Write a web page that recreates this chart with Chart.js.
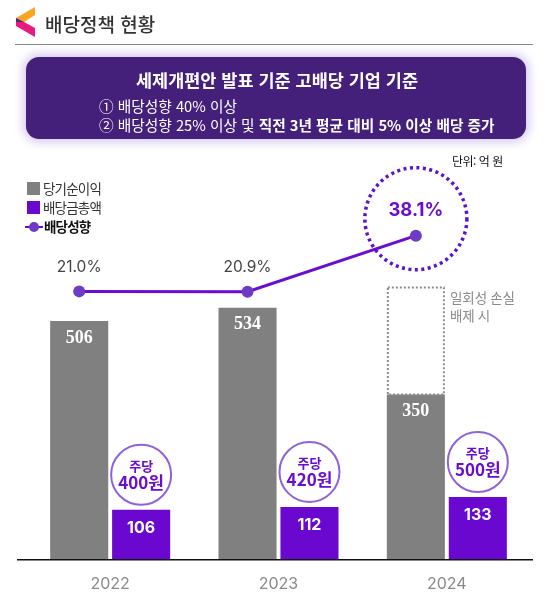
<!DOCTYPE html>
<html lang="ko">
<head>
<meta charset="utf-8">
<script src="https://cdn.jsdelivr.net/npm/chart.js"></script>
<style>
  body { margin: 0; background: #fff; font-family: "Noto Sans CJK KR", "Noto Sans", sans-serif; overflow: hidden; }
  #wrap { position: relative; width: 555px; height: 599px; overflow: hidden; }
  #wrap canvas { position: absolute; left: 0; top: 0; }
  .logo { position: absolute; left: 16px; top: 7px; }
  .title { position: absolute; left: 45px; top: 10px; font-size: 19px; line-height: 28px; color: #333; font-weight: 500; }
  .rule { position: absolute; left: 15px; top: 44px; width: 518px; height: 1px; background: #8a8a8a; }
  .box { position: absolute; left: 26px; top: 57px; width: 500px; height: 82px; border-radius: 13px;
         background: #44207a; box-shadow: 0 0 10px 3px rgba(160, 130, 225, 0.45); color: #fff; }
  .box h2 { margin: 0; position: absolute; left: 0; right: 0; top: 11px; text-align: center;
            font-size: 17.5px; line-height: 24px; font-weight: bold; padding-left: 2px; }
  .box p { margin: 0; position: absolute; left: 73px; font-size: 14.7px; line-height: 20px; white-space: nowrap; }
  .box p b { font-weight: bold; }
  .unit { position: absolute; left: 452px; top: 152px; font-size: 12px; line-height: 18px; color: #111; letter-spacing: -0.5px; }
  .legend { position: absolute; left: 25px; top: 179px; font-size: 13.5px; color: #333; letter-spacing: -0.8px; }
  .li { height: 19px; line-height: 19px; display: flex; align-items: center; }
  .sw { display: inline-block; width: 13px; height: 13px; margin: 0 3px 0 2px; }
  .ln { display: inline-block; position: relative; width: 18px; height: 12px; margin-right: 1px; }
  .ln::before { content: ""; position: absolute; left: 0; right: 0; top: 5px; height: 2px; background: #6a0dd1; }
  .ln::after { content: ""; position: absolute; left: 4px; top: 1px; width: 10px; height: 10px; border-radius: 50%; background: #6f3bc4; }
  .li.b { font-weight: bold; color: #111; }
</style>
</head>
<body>
<div id="wrap">
  <canvas id="chart" width="555" height="609"></canvas>

  <svg class="logo" width="19" height="30" viewBox="0 0 19 30">
    <polygon points="19,0 19,8 8,15 0,15 0,11" fill="#f6a623"/>
    <polygon points="0,11 8,15 0,19" fill="#4a2a86"/>
    <polygon points="0,15 8,15 19,21 19,30 0,19" fill="#e8197f"/>
  </svg>
  <div class="title">배당정책 현황</div>
  <div class="rule"></div>

  <div class="box">
    <h2>세제개편안 발표 기준 고배당 기업 기준</h2>
    <p style="top:39px">① 배당성향 40% 이상</p>
    <p style="top:58px">② 배당성향 25% 이상 및 <b>직전 3년 평균 대비 5% 이상 배당 증가</b></p>
  </div>

  <div class="unit">단위: 억 원</div>
  <div class="legend" id="legend"></div>
</div>

<script>
// 연도
var years = ['2022', '2023', '2024'];
var yearNums = [2022, 2023, 2024];

// 당기순이익 (억 원)
var netIncome = [506, 534, 350];
// 일회성 손실 배제 시 당기순이익 (2024만)
var netIncomeAdj = [null, null, 577];
// 배당금총액 (억 원)
var dividendTotal = [106, 112, 133];
// 배당성향 (%)
var payoutRatio = [21.0, 20.9, 38.1];
// 주당 배당금 (원)
var dps = [400, 420, 500];

var seriesNames = ['당기순이익', '배당금총액', '배당성향'];

var GRAY = '#808080';
var PURPLE = '#6a08cf';
var LINE = '#6a0dd1';

// 일회성 손실분 (점선 박스)
var adjExtra = netIncomeAdj.map(function (v, i) {
    return v ? v - netIncome[i] : 0;
});

function pairs(vals) {
    return yearNums.map(function (y, i) { return { x: y, y: vals[i] }; });
}

// 범례
var legendHtml = '';
legendHtml += '<div class="li"><span class="sw" style="background:' + GRAY + '"></span>' + seriesNames[0] + '</div>';
legendHtml += '<div class="li"><span class="sw" style="background:' + PURPLE + '"></span>' + seriesNames[1] + '</div>';
legendHtml += '<div class="li b"><span class="ln"></span>' + seriesNames[2] + '</div>';
document.getElementById('legend').innerHTML = legendHtml;

var hiIdx = payoutRatio.indexOf(Math.max.apply(null, payoutRatio));

// 막대 두 개를 연도 중심 좌우로 나누기 위한 축 (0.184 = 카테고리 폭 대비 반칸)
var SHIFT = 0.184;
function yearTicks(s) {
    s.ticks = yearNums.map(function (v) { return { value: v }; });
}

/* ------------------------------------
        라벨, 원, 점선 박스 그리기
----------------------------------------- */
const overlay = {
    id: 'overlay',
    afterDatasetsDraw(chart) {
        const ctx = chart.ctx;
        const area = chart.chartArea;
        const base = chart.scales.y.getPixelForValue(0);
        ctx.save();
        ctx.textAlign = 'center';
        ctx.textBaseline = 'middle';

        // 기준선
        ctx.strokeStyle = '#111';
        ctx.lineWidth = 1.5;
        ctx.beginPath();
        ctx.moveTo(area.left - 9, base);
        ctx.lineTo(area.right + 2, base);
        ctx.stroke();

        // 일회성 손실 배제 시 점선 박스
        chart.getDatasetMeta(1).data.forEach(function (el, i) {
            if (!adjExtra[i]) return;
            const p = el.getProps(['x', 'y', 'base', 'width'], true);
            ctx.setLineDash([2, 2]);
            ctx.strokeStyle = '#8c8c8c';
            ctx.lineWidth = 2;
            ctx.strokeRect(p.x - p.width / 2 + 1, p.y, p.width - 2, p.base - p.y);
            ctx.setLineDash([]);
            ctx.fillStyle = '#8a8a8a';
            ctx.font = '13.5px "Noto Sans CJK KR"';
            ctx.textAlign = 'left';
            ctx.fillText('일회성 손실', p.x + p.width / 2 + 5, p.y + 10);
            ctx.fillText('배제 시', p.x + p.width / 2 + 5, p.y + 28);
            ctx.textAlign = 'center';
        });

        // 당기순이익 값
        chart.getDatasetMeta(0).data.forEach(function (el, i) {
            ctx.fillStyle = '#fff';
            ctx.font = 'bold 18px "Liberation Serif"';
            ctx.fillText(netIncome[i], el.x, el.y + 17);
        });

        // 배당금총액 값 + 주당 배당금 원
        chart.getDatasetMeta(2).data.forEach(function (el, i) {
            ctx.fillStyle = '#fff';
            ctx.font = 'bold 16px Inter';
            ctx.fillText(dividendTotal[i], el.x, el.y + 18);

            const cy = el.y - 35;
            ctx.beginPath();
            ctx.arc(el.x, cy, 30, 0, Math.PI * 2);
            ctx.fillStyle = '#fff';
            ctx.fill();
            ctx.strokeStyle = '#8e62da';
            ctx.lineWidth = 2;
            ctx.stroke();

            ctx.fillStyle = '#6a0dcf';
            ctx.font = 'bold 13px "Noto Sans CJK KR"';
            ctx.fillText('주당', el.x, cy - 9);
            ctx.font = 'bold 17px "Noto Sans CJK KR"';
            ctx.fillText(dps[i] + '원', el.x, cy + 8);
        });

        // 배당성향 값
        chart.getDatasetMeta(3).data.forEach(function (el, i) {
            const txt = payoutRatio[i].toFixed(1) + '%';
            if (i === hiIdx) {
                ctx.beginPath();
                ctx.arc(el.x, el.y - 17, 51, 0, Math.PI * 2);
                ctx.setLineDash([3, 3.5]);
                ctx.strokeStyle = '#5c12c9';
                ctx.lineWidth = 3.5;
                ctx.stroke();
                ctx.setLineDash([]);
                ctx.fillStyle = '#6a0dcf';
                ctx.font = 'bold 18.5px Inter';
                ctx.fillText(txt, el.x, el.y - 25);
            } else {
                ctx.fillStyle = '#444';
                ctx.font = '15.5px Inter';
                ctx.fillText(txt, el.x, el.y - 24);
            }
        });
        ctx.restore();
    }
};

const barOpts = {
    grouped: false,
    categoryPercentage: 1,
    barPercentage: 0.345
};

const config = {
    type: 'bar',
    data: {
        labels: years,
        datasets: [Object.assign({
            label: seriesNames[0],
            data: pairs(netIncome),
            backgroundColor: GRAY,
            xAxisID: 'xg',
            yAxisID: 'y',
            stack: 'a'
        }, barOpts), Object.assign({
            label: '일회성 손실 배제 시',
            data: pairs(adjExtra),
            backgroundColor: 'rgba(0,0,0,0)',
            xAxisID: 'xg',
            yAxisID: 'y',
            stack: 'a'
        }, barOpts), Object.assign({
            label: seriesNames[1],
            data: pairs(dividendTotal),
            backgroundColor: PURPLE,
            xAxisID: 'xp',
            yAxisID: 'y',
            stack: 'b'
        }, barOpts), {
            type: 'line',
            label: seriesNames[2],
            data: pairs(payoutRatio),
            xAxisID: 'xg',
            yAxisID: 'y2',
            borderColor: LINE,
            borderWidth: 3,
            pointRadius: 6,
            pointBackgroundColor: '#6f3bc4',
            pointBorderWidth: 0,
            tension: 0
        }]
    },
    options: {
        responsive: false,
        animation: false,
        layout: { padding: { top: 150, left: 26, right: 24, bottom: 0 } },
        plugins: {
            legend: { display: false },
            tooltip: { enabled: false }
        },
        scales: {
            x: {
                type: 'category',
                grid: { display: false, drawTicks: false },
                border: { display: false },
                ticks: { color: '#8a8a8a', font: { family: 'Inter', size: 16 }, padding: 15 }
            },
            xg: {
                type: 'linear', position: 'bottom', display: false, offset: false,
                min: yearNums[0] - 0.5 + SHIFT, max: yearNums[2] + 0.5 + SHIFT,
                afterBuildTicks: yearTicks
            },
            xp: {
                type: 'linear', position: 'bottom', display: false, offset: false,
                min: yearNums[0] - 0.5 - SHIFT, max: yearNums[2] + 0.5 - SHIFT,
                afterBuildTicks: yearTicks
            },
            y: { stacked: true, min: 0, max: 868, display: false },
            y2: { type: 'linear', position: 'right', min: -61.4, max: 64.4, display: false }
        }
    },
    plugins: [overlay]
};

const myChart = new Chart(document.getElementById('chart'), config);
</script>
</body>
</html>
